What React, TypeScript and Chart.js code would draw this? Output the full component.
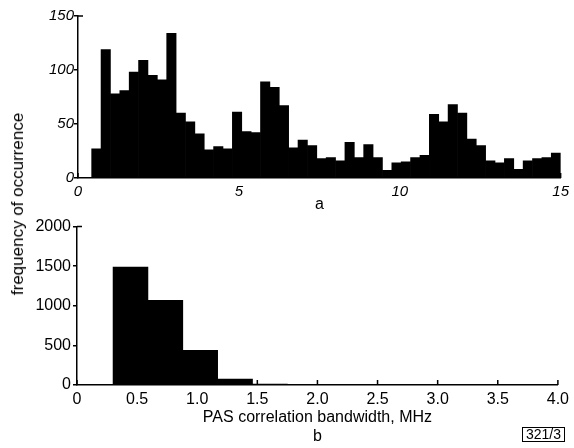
import React, { useEffect, useRef } from "react";
import { Chart, registerables } from "chart.js";

Chart.register(...registerables);

const FONT = '"Liberation Sans", Arial, Helvetica, sans-serif';

// Panel a: bandwidth histogram 0-15 MHz
const topBinStart = 0.425;
const topBinWidth = 0.2915;
const topCounts = [
  27, 119, 78, 81, 98, 109, 95, 91, 134, 60,
  52, 41, 26, 29, 27, 61, 43, 42, 89, 84,
  67, 28, 35, 30, 18, 19, 16, 33, 19, 31,
  19, 7, 14, 15, 19, 21, 59, 52, 68, 60,
  36, 30, 16, 14, 18, 8, 16, 18, 19, 23,
];
const topXTicks = [0, 5, 10, 15];
const topYTicks = [0, 50, 100, 150];

// Panel b: PAS correlation bandwidth 0-4 MHz
const bottomBinStart = 0.3;
const bottomBinWidth = 0.29;
const bottomCounts = [1490, 1070, 437, 75, 12, 6, 8, 10, 6, 8, 4, 3];
const bottomXTicks = [0, 0.5, 1.0, 1.5, 2.0, 2.5, 3.0, 3.5, 4.0];
const bottomYTicks = [0, 500, 1000, 1500, 2000];

const inwardTicks = {
  id: "inwardTicks",
  afterDraw(chart: any) {
    const { ctx } = chart;
    const xs = chart.scales.x;
    const ys = chart.scales.y;
    ctx.save();
    ctx.strokeStyle = "#000";
    ctx.lineWidth = 1.5;
    ctx.beginPath();
    xs.ticks.forEach((t: any) => {
      const px = xs.getPixelForValue(t.value);
      ctx.moveTo(px, ys.bottom);
      ctx.lineTo(px, ys.bottom - 5);
    });
    const topPx = ys.getPixelForValue(ys.max);
    ctx.moveTo(xs.left, topPx);
    ctx.lineTo(xs.left + 5, topPx);
    ctx.stroke();
    ctx.restore();
  },
};

function makeConfig(opts: {
  counts: number[];
  binStart: number;
  binWidth: number;
  xMax: number;
  yMax: number;
  xTicks: number[];
  yTicks: number[];
  xFormat: (v: number) => string;
  tickFont: any;
  yPadLabel: number;
  padding: any;
  yWidth: number;
  xHeight: number;
  title: any;
}) {
  return {
    type: "bar" as const,
    data: {
      datasets: [
        {
          data: opts.counts.map((c, i) => ({
            x: opts.binStart + opts.binWidth * (i + 0.5),
            y: c,
          })),
          backgroundColor: "#000",
          borderWidth: 0,
          barPercentage: 1,
          categoryPercentage: 1,
        },
      ],
    },
    options: {
      animation: false,
      responsive: false,
      layout: { padding: opts.padding },
      plugins: { legend: { display: false }, tooltip: { enabled: false } },
      scales: {
        x: {
          type: "linear",
          min: 0,
          max: opts.xMax,
          offset: false,
          afterBuildTicks: (s: any) => {
            s.ticks = opts.xTicks.map((v) => ({ value: v }));
          },
          afterFit: (s: any) => {
            s.height = opts.xHeight;
          },
          grid: { display: false, drawTicks: false, offset: false },
          border: { display: true, color: "#000", width: 1.5 },
          ticks: {
            font: opts.tickFont,
            color: "#000",
            padding: 5,
            maxRotation: 0,
            autoSkip: false,
            callback: (v: any) => opts.xFormat(Number(v)),
          },
          title: opts.title,
        },
        y: {
          min: 0,
          max: opts.yMax,
          afterBuildTicks: (s: any) => {
            s.ticks = opts.yTicks.map((v) => ({ value: v }));
          },
          afterFit: (s: any) => {
            s.width = opts.yWidth;
          },
          grid: {
            display: true,
            drawOnChartArea: false,
            drawTicks: true,
            tickLength: 4,
            color: "#000",
            lineWidth: 1.5,
          },
          border: { display: true, color: "#000", width: 1.5 },
          ticks: {
            font: opts.tickFont,
            color: "#000",
            padding: opts.yPadLabel,
            autoSkip: false,
            callback: (v: any) => String(v),
          },
        },
      },
    },
    plugins: [inwardTicks],
  };
}

export default function App() {
  const topRef = useRef<HTMLCanvasElement | null>(null);
  const botRef = useRef<HTMLCanvasElement | null>(null);

  useEffect(() => {
    const top = new Chart(
      topRef.current as HTMLCanvasElement,
      makeConfig({
        counts: topCounts,
        binStart: topBinStart,
        binWidth: topBinWidth,
        xMax: 15,
        yMax: 150,
        xTicks: topXTicks,
        yTicks: topYTicks,
        xFormat: (v) => String(v),
        tickFont: { family: FONT, size: 15, style: "italic" },
        yPadLabel: 0,
        padding: { left: 0, right: 13, top: 16, bottom: 0 },
        yWidth: 78,
        xHeight: 37,
        title: {
          display: true,
          text: "a",
          color: "#000",
          font: { family: FONT, size: 16, lineHeight: 1.125 },
          padding: { top: 0, bottom: 1 },
        },
      }) as any
    );
    const bot = new Chart(
      botRef.current as HTMLCanvasElement,
      makeConfig({
        counts: bottomCounts,
        binStart: bottomBinStart,
        binWidth: bottomBinWidth,
        xMax: 4,
        yMax: 2000,
        xTicks: bottomXTicks,
        yTicks: bottomYTicks,
        xFormat: (v) => (v === 0 ? "0" : v.toFixed(1)),
        tickFont: { family: FONT, size: 16 },
        yPadLabel: 2,
        padding: { left: 0, right: 11, top: 10, bottom: 0 },
        yWidth: 77,
        xHeight: 63,
        title: {
          display: true,
          text: ["PAS correlation bandwidth, MHz", "b"],
          color: "#000",
          font: { family: FONT, size: 16, lineHeight: 1.1875 },
          padding: { top: 0, bottom: 1.5 },
        },
      }) as any
    );
    return () => {
      top.destroy();
      bot.destroy();
    };
  }, []);

  return (
    <div
      style={{
        position: "fixed",
        left: 0,
        top: 0,
        width: 574,
        height: 448,
        background: "#fff",
        fontFamily: FONT,
      }}
    >
      <canvas
        ref={topRef}
        width={574}
        height={215}
        style={{ position: "absolute", left: 0, top: 0, display: "block" }}
      />
      <canvas
        ref={botRef}
        width={574}
        height={233}
        style={{ position: "absolute", left: 0, top: 215, display: "block" }}
      />
      <div
        style={{
          position: "absolute",
          left: 18,
          top: 204,
          transform: "translate(-50%, -50%) rotate(-90deg)",
          whiteSpace: "nowrap",
          fontSize: 17,
          lineHeight: "20px",
          color: "#000",
        }}
      >
        frequency of occurrence
      </div>
      <div
        style={{
          position: "absolute",
          left: 522,
          top: 427,
          border: "1px solid #000",
          padding: "0 3px",
          fontSize: 14,
          lineHeight: "13px",
          color: "#000",
        }}
      >
        321/3
      </div>
    </div>
  );
}
